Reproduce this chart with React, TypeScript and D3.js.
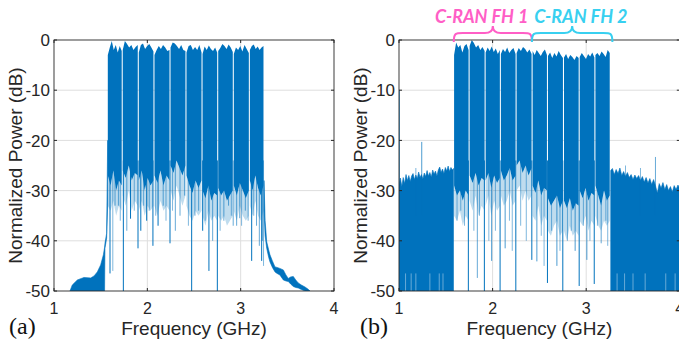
import React from "react";
import * as d3 from "d3";

const xTicks = [1, 2, 3, 4];
const yTicks = [0, -10, -20, -30, -40, -50];
const xDomain = [1, 4];
const yDomain = [-50, 0];
const xTitle = "Frequency (GHz)";
const yTitle = "Normalized Power (dB)";

// ---------- panel (a) ----------
const channelEdgesA = [1.571, 1.731, 1.903, 2.071, 2.243, 2.414, 2.586, 2.754, 2.921, 3.093, 3.25];
const channelTopA = [
  [-3, -1.5, -0.2, -2, -1, -2.5, -1.2, -2.2],
  [-2, -0.2, -0.8, -1.5, -1.0, -2, -1.4, -1.0],
  [-2.5, -1, -0.7, -1.8, -1.2, -0.8, -1.5, -2.3],
  [-3, -2, -1.2, -1.8, -1.0, -1.5, -2.2, -2],
  [-1.5, -0.5, -0.7, -1.2, -1.8, -1, -2, -2.2],
  [-2.5, -1.2, -1, -2, -1.4, -2, -1, -2.5],
  [-2.8, -1.3, -2, -1.1, -1.8, -2.2, -1.5, -2.5],
  [-2.2, -1.6, -0.8, -1.2, -1.8, -0.9, -1.5, -2.4],
  [-2.8, -1.5, -2, -1.2, -2.3, -1, -1.8, -2.6],
  [-2, -1.2, -0.9, -1.8, -1.3, -2, -1.5, -1.2],
];
const channelBottomA = [
  [-27, -29, -26, -30, -28, -29],
  [-26, -27.5, -25, -28, -26.5, -27],
  [-28, -26, -30, -27.5, -29, -28],
  [-27, -28.5, -26, -29, -27, -28],
  [-25, -26.5, -24, -25.5, -27, -25],
  [-27, -29, -30.5, -28, -29.5, -28],
  [-30, -31.5, -29, -32, -30.5, -31],
  [-29.5, -31, -30, -32, -31, -30],
  [-29, -31, -28.5, -30, -31.5, -30],
  [-28, -30, -27, -29.5, -31, -29],
];
const channelLightA = [
  [-33, -34, -32, -35, -33, -34],
  [-31, -33, -30, -34, -32, -33],
  [-34, -32, -35, -33, -34, -33],
  [-33, -35, -32, -34, -33, -34],
  [-30, -32, -29, -31, -33, -31],
  [-33, -35, -36, -34, -35, -34],
  [-35, -37, -34, -36, -35, -36],
  [-35, -36, -35, -37, -36, -35],
  [-34, -36, -33, -35, -36, -35],
  [-33, -35, -32, -35, -36, -34],
];
// [frequency, lowest dB, strength]
const spikesA = [
  [1.6, -46.5, 1], [1.743, -50, 1], [1.9, -41.5, 1], [2.06, -41, 1], [2.243, -40.5, 1],
  [2.475, -50, 1], [2.75, -50, 1], [2.66, -46, 1], [3.118, -44, 1], [3.225, -44, 1],
  [2.92, -37, 0.6], [2.115, -37, 1], [2.35, -35, 0.6], [2.593, -38, 1], [1.654, -33, 0.6],
  [1.69, -33, 0.6], [1.82, -35.6, 1], [1.993, -36, 1], [2.51, -35, 0.6], [2.99, -35.5, 0.6],
  [2.957, -37, 0.6], [1.63, -46, 0.5], [1.78, -38, 0.6], [2.02, -34, 0.6], [2.17, -33, 0.6],
  [2.3, -38, 0.6], [2.4, -31, 0.6], [2.55, -34, 0.6], [2.7, -40, 0.6], [2.82, -36, 0.6],
  [2.87, -33, 0.6], [3.05, -34, 0.6], [3.17, -37, 0.6], [3.2, -41, 0.6], [1.93, -38, 1],
  [3.235, -40, 0.6], [3.245, -45, 0.5], [1.71, -36, 0.5], [1.86, -34, 0.5], [1.96, -33, 0.5],
  [2.09, -35, 0.5], [2.2, -36, 0.5], [2.27, -34, 0.5], [2.44, -37, 0.5], [2.62, -36, 0.5],
  [2.78, -38, 0.5], [2.9, -35, 0.5], [3.01, -37, 0.5], [3.08, -36, 0.5], [3.14, -35, 0.5],
];
const skirtLeftFreqA = [1.171, 1.196, 1.25, 1.321, 1.393, 1.429, 1.464, 1.5, 1.529, 1.542, 1.546, 1.564, 1.575];
const skirtLeftUpperA = [-50, -48.8, -47.8, -47.3, -47.4, -47, -46.2, -44.8, -42.8, -41.3, -40.5, -38.5, -20];
const skirtLeftLowerA = [-50, -50, -50, -50, -50, -50, -50, -50, -50, -50, -41.5, -39.5, -33];
const skirtRightFreqA = [3.25, 3.262, 3.279, 3.3, 3.314, 3.34, 3.368, 3.39, 3.42, 3.457, 3.485, 3.51, 3.535, 3.564, 3.59, 3.617, 3.65, 3.689, 3.72, 3.743];
const skirtRightUpperA = [-28, -36, -40.2, -41.8, -42.8, -44, -45.2, -45.3, -45.5, -45.8, -46.8, -47.5, -47.2, -47.1, -47.8, -48.4, -48.8, -49.2, -49.6, -50];
const skirtRightLowerA = [-34, -39, -41.5, -43.3, -44.2, -45.3, -46.2, -46.5, -46.8, -47.8, -48, -48.1, -48.6, -49.1, -49.3, -49.4, -49.7, -50, -50, -50];

// ---------- panel (b) ----------
const channelEdgesB = [1.583, 1.749, 1.92, 2.083, 2.251, 2.422, 2.586, 2.757, 2.925, 3.093, 3.257];
const channelTopB = [
  [-3, -0.5, -1.5, -1, -2.5, -1.2, -0.8, -2],
  [-1.2, 0, -0.6, -1.5, -1, -2, -1.4, -2.2],
  [-2.5, -1.5, -2.2, -1.3, -2.4, -1.7, -2.8, -2],
  [-2.8, -1.8, -2.4, -1.5, -2.6, -2, -1.6, -2.8],
  [-2.6, -1.6, -2.2, -1.4, -1.8, -2.5, -1.9, -2.8],
  [-2.2, -3, -2, -2.6, -3.2, -2.4, -1.9, -3],
  [-3.2, -2.5, -3.6, -2.6, -3.3, -2.2, -3, -3.6],
  [-3.5, -2.8, -3.8, -3, -3.4, -4, -3.2, -3.6],
  [-3.4, -2.6, -3.2, -3.8, -2.8, -3.3, -2.5, -3.5],
  [-3, -2.6, -3.2, -2.3, -2.8, -3.4, -2.0, -2.6],
];
const channelBottomB = [
  [-29, -31, -30, -32, -30, -31],
  [-27, -28.5, -26.5, -29, -27.5, -28],
  [-28, -26.5, -29.5, -27, -28.5, -27.5],
  [-26, -28, -27, -25.5, -28, -27],
  [-25, -24, -26.5, -25, -27, -25.5],
  [-29, -30.5, -28, -31, -29.5, -30],
  [-31.5, -33, -32, -31, -33.5, -32],
  [-32, -33.5, -31.5, -34, -32.5, -33],
  [-30, -31.5, -29.5, -32, -30.5, -31],
  [-29, -31, -33, -30, -32, -31],
];
const channelLightB = [
  [-35, -36, -34, -37, -35, -36],
  [-32, -34, -31, -35, -33, -34],
  [-33, -31, -35, -32, -34, -33],
  [-31, -33, -32, -30, -33, -32],
  [-30, -29, -32, -30, -32, -31],
  [-35, -36, -33, -37, -35, -36],
  [-38, -39, -37, -36, -39, -38],
  [-38, -40, -37, -39, -38, -39],
  [-36, -37, -35, -38, -36, -37],
  [-35, -37, -38, -36, -37, -36],
];
const spikesB = [
  [1.741, -50, 1], [1.912, -50, 1], [2.08, -50, 1], [2.248, -50, 1], [2.75, -50, 1],
  [2.925, -49, 1], [3.086, -48.6, 1], [2.419, -43.8, 1], [2.586, -48.4, 1], [1.837, -47.4, 0.6],
  [1.99, -44, 0.7], [2.134, -41.5, 0.7], [2.473, -44.1, 0.7], [2.882, -42, 0.7], [3.16, -40.5, 0.6],
  [3.007, -43.8, 0.7], [2.687, -45, 0.7], [1.62, -36, 0.5], [1.66, -34, 0.5], [1.7, -37, 0.5],
  [1.8, -38, 0.5], [1.86, -35, 0.5], [1.96, -40, 0.5], [2.03, -38, 0.5], [2.18, -36, 0.5],
  [2.21, -42, 0.5], [2.3, -37, 0.5], [2.36, -40, 0.5], [2.52, -39, 0.5], [2.55, -45, 0.5],
  [2.63, -38, 0.5], [2.72, -42, 0.5], [2.8, -40, 0.5], [2.84, -38, 0.5], [2.97, -37, 0.5],
  [3.04, -40, 0.5], [3.12, -37, 0.5], [3.21, -36, 0.5], [3.23, -41, 0.5],
];
// spikes rising above the noise floor: [frequency, peak dB, strength]
const floorSpikesB = [[1.002, -10, 1], [1.243, -20.3, 0.7], [3.74, -23.3, 0.6], [3.42, -25, 0.5], [3.58, -25.5, 0.5], [1.18, -25.5, 0.5]];
const noiseLeftFreqB = [1.0, 1.015, 1.03, 1.045, 1.06, 1.075, 1.09, 1.105, 1.12, 1.135, 1.15, 1.165, 1.18, 1.195, 1.21, 1.225, 1.24, 1.255, 1.27, 1.285, 1.3, 1.315, 1.33, 1.345, 1.36, 1.375, 1.39, 1.405, 1.42, 1.435, 1.45, 1.465, 1.48, 1.495, 1.51, 1.525, 1.54, 1.555, 1.57, 1.582];
const noiseLeftTopB = [-28.8, -27.5, -29.2, -27.4, -28.6, -26.8, -28, -27, -28.2, -27.1, -26.6, -27.8, -26.9, -27.6, -26.3, -27.4, -26.8, -27.7, -26.5, -27.2, -26, -27.1, -26.4, -27.3, -25.9, -26.7, -26.1, -27.1, -25.9, -25.3, -26.4, -25.7, -26.6, -25.4, -26.1, -25.1, -26.2, -25.4, -25.9, -25.6];
const noiseRightFreqB = [3.262, 3.28, 3.3, 3.32, 3.34, 3.36, 3.38, 3.4, 3.42, 3.44, 3.46, 3.48, 3.5, 3.52, 3.54, 3.56, 3.58, 3.6, 3.62, 3.64, 3.66, 3.68, 3.7, 3.72, 3.74, 3.76, 3.78, 3.8, 3.82, 3.84, 3.86, 3.88, 3.9, 3.92, 3.94, 3.96, 3.98, 4.0];
const noiseRightTopB = [-26, -25.6, -26.8, -25.8, -26.6, -25.5, -27, -26.2, -27.2, -26.4, -27.4, -26.8, -27.8, -26.9, -27.6, -27, -28, -27.2, -28.3, -27.4, -28.5, -27.6, -28.8, -27.8, -29, -30.5, -28.6, -29.5, -28.4, -29.8, -28.8, -30, -29.2, -30.3, -29, -29.8, -28.9, -29.5];
const noiseGapsB = [1.07, 1.13, 1.18, 1.33, 1.43, 1.47, 3.33, 3.41, 3.5, 3.63, 3.85, 3.95];

// ---------- annotations ----------
const fhLabels = ["C-RAN FH 1", "C-RAN FH 2"];
const fhRanges = [[1.585, 2.42], [2.42, 3.28]];
const fhLabelStart = [1.385, 2.444];
const fhColors = ["#FF5EC6", "#38D0F0"];
const panelLabels = ["(a)", "(b)"];

const BLUE = "#0072BD";
const AXIS = "#262626";
const GRID = "#dedede";
const SANS = "Arial, 'Liberation Sans', Helvetica, sans-serif";

function linePath(pts) {
  return d3.line()(pts);
}

function Panel(props) {
  const { id, left, right, top, bottom, edges, tops, bottoms, lights, spikes, floorSpikes, polys, gaps } = props;
  const x = d3.scaleLinear().domain(xDomain).range([left, right]);
  const y = d3.scaleLinear().domain(yDomain).range([bottom, top]);
  const g = 0.0055;
  const chPaths = [];
  const lightPaths = [];
  for (let i = 0; i < edges.length - 1; i++) {
    const a = edges[i] + g, b = edges[i + 1] - g;
    const tp = tops[i].map((v, k) => [x(a + (b - a) * k / (tops[i].length - 1)), y(v)]);
    const bp = bottoms[i].map((v, k) => [x(a + (b - a) * k / (bottoms[i].length - 1)), y(v)]);
    const lp = lights[i].map((v, k) => [x(a + (b - a) * k / (lights[i].length - 1)), y(v)]);
    chPaths.push(linePath([...tp, ...bp.slice().reverse()]) + "Z");
    lightPaths.push(linePath([...bp, ...lp.slice().reverse()]) + "Z");
  }
  const polyPaths = polys.map((p) => {
    const up = p.f.map((f, k) => [x(f), y(p.upper[k])]);
    const lo = p.f.map((f, k) => [x(f), y(p.lower ? p.lower[k] : -50)]);
    return linePath([...up, ...lo.slice().reverse()]) + "Z";
  });
  const tl = 3;
  return (
    <g>
      <defs>
        <clipPath id={"clip" + id}>
          <rect x={left} y={top} width={right - left} height={bottom - top} />
        </clipPath>
      </defs>
      <rect x={left} y={top} width={right - left} height={bottom - top} fill="#fff" />
      {xTicks.slice(1, -1).map((t) => (
        <line key={"gx" + t} x1={x(t)} x2={x(t)} y1={top} y2={bottom} stroke={GRID} strokeWidth={1} />
      ))}
      {yTicks.slice(1, -1).map((t) => (
        <line key={"gy" + t} x1={left} x2={right} y1={y(t)} y2={y(t)} stroke={GRID} strokeWidth={1} />
      ))}
      <g clipPath={`url(#clip${id})`}>
        {polyPaths.map((d, i) => (
          <path key={"p" + i} d={d} fill={BLUE} stroke={BLUE} strokeWidth={0.6} />
        ))}
        {lightPaths.map((d, i) => (
          <path key={"l" + i} d={d} fill={BLUE} fillOpacity={0.25} />
        ))}
        {spikes.map((s, i) => (
          <line key={"s" + i} x1={x(s[0])} x2={x(s[0])} y1={y(-24)} y2={y(s[1])} stroke={BLUE} strokeOpacity={s[2]} strokeWidth={1} />
        ))}
        {floorSpikes.map((s, i) => (
          <line key={"f" + i} x1={x(s[0])} x2={x(s[0])} y1={y(-35)} y2={y(s[1])} stroke={BLUE} strokeOpacity={s[2]} strokeWidth={1} />
        ))}
        {chPaths.map((d, i) => (
          <path key={"c" + i} d={d} fill={BLUE} />
        ))}
        {gaps.map((f, i) => (
          <line key={"w" + i} x1={x(f)} x2={x(f)} y1={y(-50)} y2={y(-46.5)} stroke="#fff" strokeOpacity={0.4} strokeWidth={1} />
        ))}
      </g>
      <rect x={left} y={top} width={right - left} height={bottom - top} fill="none" stroke={AXIS} strokeWidth={0.9} />
      {xTicks.map((t) => (
        <g key={"tx" + t}>
          <line x1={x(t)} x2={x(t)} y1={bottom} y2={bottom - tl} stroke={AXIS} />
          <line x1={x(t)} x2={x(t)} y1={top} y2={top + tl} stroke={AXIS} />
          <text x={x(t)} y={bottom + 23} textAnchor="middle" fontSize={16} fill={AXIS} fontFamily={SANS}>{t}</text>
        </g>
      ))}
      {yTicks.map((t) => (
        <g key={"ty" + t}>
          <line x1={left} x2={left + tl} y1={y(t)} y2={y(t)} stroke={AXIS} />
          <line x1={right} x2={right - tl} y1={y(t)} y2={y(t)} stroke={AXIS} />
          <text x={left - 4} y={y(t)} dy="0.36em" textAnchor="end" fontSize={17} fill={AXIS} fontFamily={SANS}>{t}</text>
        </g>
      ))}
      <text x={(left + right) / 2} y={bottom + 44} textAnchor="middle" fontSize={19} fill={AXIS} fontFamily={SANS}>{xTitle}</text>
      <text transform={`translate(${left - 32},${(top + bottom) / 2}) rotate(-90)`} textAnchor="middle" fontSize={19} fill={AXIS} fontFamily={SANS}>{yTitle}</text>
    </g>
  );
}

export default function App() {
  const W = 679, H = 341;
  const xb = d3.scaleLinear().domain(xDomain).range([399, 679.8]);
  const braceTop = 33, braceEnd = 42, braceTip = 26;
  const bracePath = (a, b) => {
    const x0 = xb(a), x1 = xb(b), m = (x0 + x1) / 2;
    return `M${x0},${braceEnd} C${x0},${braceTop} ${x0 + 2},${braceTop} ${x0 + 9},${braceTop} L${m - 8},${braceTop} C${m - 3},${braceTop} ${m},${braceTop - 2} ${m},${braceTip} C${m},${braceTop - 2} ${m + 3},${braceTop} ${m + 8},${braceTop} L${x1 - 9},${braceTop} C${x1 - 2},${braceTop} ${x1},${braceTop} ${x1},${braceEnd}`;
  };
  return (
    <svg width={W} height={H} style={{ position: "absolute", left: 0, top: 0 }}>
      <rect width={W} height={H} fill="#fff" />
      <Panel
        id="a" left={54} right={334} top={40} bottom={291}
        edges={channelEdgesA} tops={channelTopA} bottoms={channelBottomA} lights={channelLightA}
        spikes={spikesA} floorSpikes={[]}
        polys={[
          { f: skirtLeftFreqA, upper: skirtLeftUpperA, lower: skirtLeftLowerA },
          { f: skirtRightFreqA, upper: skirtRightUpperA, lower: skirtRightLowerA },
        ]}
        gaps={[]}
      />
      <Panel
        id="b" left={399} right={679.8} top={40} bottom={291}
        edges={channelEdgesB} tops={channelTopB} bottoms={channelBottomB} lights={channelLightB}
        spikes={spikesB} floorSpikes={floorSpikesB}
        polys={[
          { f: noiseLeftFreqB, upper: noiseLeftTopB },
          { f: noiseRightFreqB, upper: noiseRightTopB },
        ]}
        gaps={noiseGapsB}
      />
      {fhRanges.map((r, i) => (
        <g key={"fh" + i}>
          <path d={bracePath(r[0], r[1])} fill="none" stroke={fhColors[i]} strokeWidth={2} />
          <text x={xb(fhLabelStart[i])} y={23} fontSize={18} fontWeight="bold" fontStyle="italic" fill={fhColors[i]} fontFamily="Lato, 'Liberation Sans', sans-serif">{fhLabels[i]}</text>
        </g>
      ))}
      <text x={9} y={334} fontSize={24} fontFamily="'Liberation Serif', 'Times New Roman', serif" fill="#111">{panelLabels[0]}</text>
      <text x={360} y={334} fontSize={24} fontFamily="'Liberation Serif', 'Times New Roman', serif" fill="#111">{panelLabels[1]}</text>
    </svg>
  );
}
